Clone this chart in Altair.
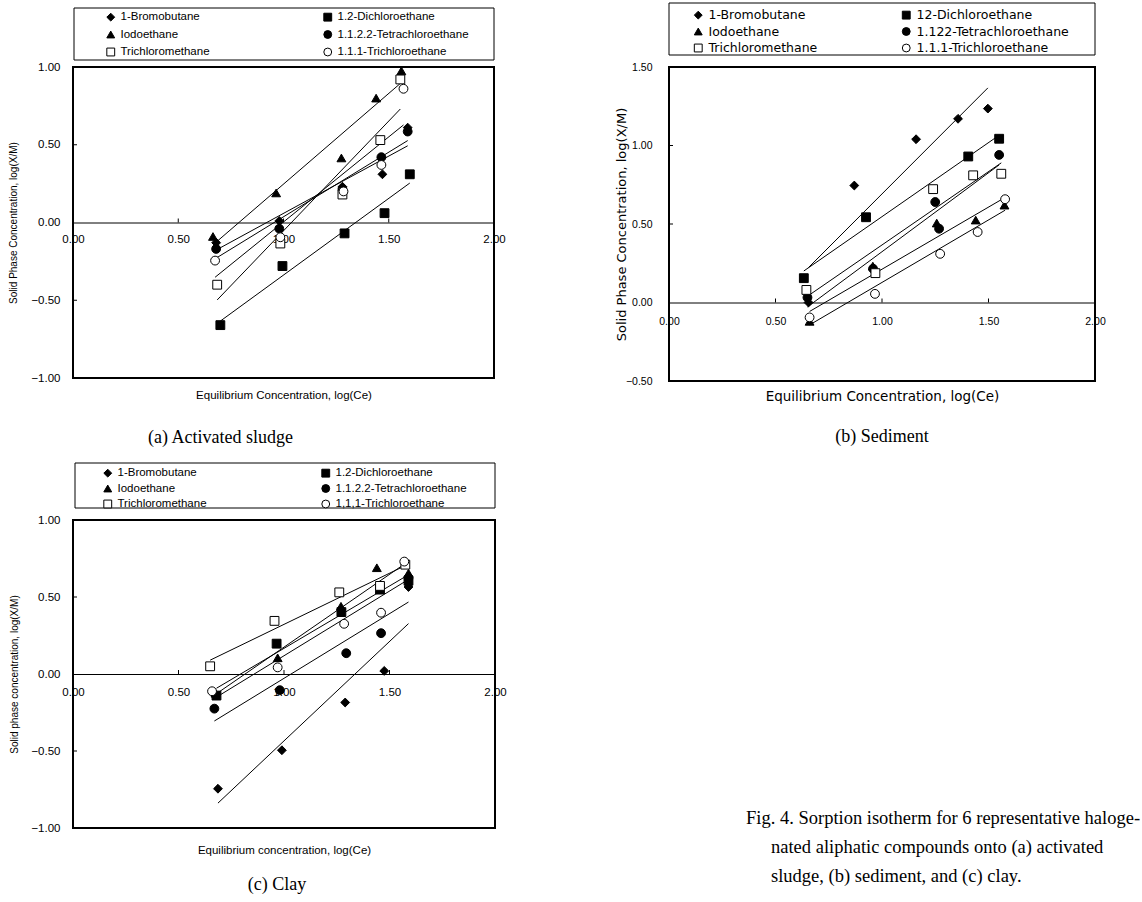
import altair as alt
import pandas as pd

# ---------------- legend labels (as printed in each panel) ----------------
LABELS_A = ["1-Bromobutane", "1.2-Dichloroethane", "Iodoethane",
            "1.1.2.2-Tetrachloroethane", "Trichloromethane", "1.1.1-Trichloroethane"]
LABELS_B = ["1-Bromobutane", "12-Dichloroethane", "Iodoethane",
            "1.122-Tetrachloroethane", "Trichloromethane", "1.1.1-Trichloroethane"]
LABELS_C = ["1-Bromobutane", "1.2-Dichloroethane", "Iodoethane",
            "1.1.2.2-Tetrachloroethane", "Trichloromethane", "1,1,1-Trichloroethane"]
MARKERS = ["diamond", "square", "triangle-up", "circle", "square", "circle"]
MARKER_FILLS = ["black", "black", "black", "black", "white", "white"]
# legend is laid out column by column: this order reads row by row as in the figure
LEGEND_ORDER = [0, 2, 4, 1, 3, 5]

# ---------------- (a) Activated sludge ----------------
A_LOGCE = [
    [0.68, 0.98, 1.28, 1.47, 1.59],
    [0.70, 0.995, 1.29, 1.48, 1.60],
    [0.665, 0.965, 1.275, 1.44, 1.56],
    [0.68, 0.98, 1.28, 1.465, 1.59],
    [0.685, 0.985, 1.28, 1.46, 1.555],
    [0.675, 0.985, 1.285, 1.465, 1.57],
]
A_LOGXM = [
    [-0.13, 0.01, 0.23, 0.31, 0.61],
    [-0.66, -0.28, -0.07, 0.06, 0.31],
    [-0.09, 0.19, 0.415, 0.80, 0.975],
    [-0.17, -0.04, 0.215, 0.42, 0.585],
    [-0.40, -0.135, 0.18, 0.53, 0.92],
    [-0.245, -0.095, 0.20, 0.37, 0.86],
]

# ---------------- (b) Sediment ----------------
B_LOGCE = [
    [0.655, 0.87, 1.16, 1.357, 1.497],
    [0.633, 0.925, 1.405, 1.55],
    [0.66, 0.957, 1.257, 1.44, 1.575],
    [0.65, 0.958, 1.25, 1.268, 1.55],
    [0.645, 0.969, 1.24, 1.428, 1.56],
    [0.66, 0.967, 1.273, 1.449, 1.578],
]
B_LOGXM = [
    [0.0, 0.745, 1.04, 1.17, 1.235],
    [0.155, 0.543, 0.93, 1.043],
    [-0.12, 0.232, 0.506, 0.525, 0.62],
    [0.032, 0.215, 0.64, 0.47, 0.94],
    [0.08, 0.187, 0.722, 0.81, 0.82],
    [-0.095, 0.055, 0.31, 0.449, 0.658],
]

# ---------------- (c) Clay ----------------
C_LOGCE = [
    [0.687, 0.99, 1.29, 1.475, 1.59],
    [0.68, 0.965, 1.272, 1.455, 1.59],
    [0.675, 0.97, 1.27, 1.44, 1.59],
    [0.67, 0.98, 1.295, 1.46, 1.59],
    [0.65, 0.955, 1.262, 1.455, 1.575],
    [0.659, 0.97, 1.285, 1.46, 1.57],
]
C_LOGXM = [
    [-0.745, -0.495, -0.185, 0.02, 0.565],
    [-0.14, 0.197, 0.402, 0.548, 0.605],
    [-0.125, 0.105, 0.44, 0.69, 0.655],
    [-0.225, -0.105, 0.135, 0.265, 0.625],
    [0.05, 0.345, 0.53, 0.572, 0.71],
    [-0.112, 0.043, 0.326, 0.398, 0.73],
]

X_LABELS = [0, 0.5, 1.0, 1.5, 2.0]
X_TICKS = [0.5, 1.0, 1.5]
CAPTION = ["Fig. 4. Sorption isotherm for 6 representative haloge-",
           "nated aliphatic compounds onto (a) activated",
           "sludge, (b) sediment, and (c) clay."]

SANS = "Liberation Sans"
WIDE = "DejaVu Sans"
SERIF = "Liberation Serif"


def panel(labels, xs, ys, p):
    rows = []
    for lab, xx, yy in zip(labels, xs, ys):
        for a, b in zip(xx, yy):
            rows.append({"s": lab, "x": a, "y": b})
    df = pd.DataFrame(rows)
    w, h = p["w"], p["h"]
    y0, y1 = p["ydom"]
    zero_y = h * (y1 - 0) / (y1 - y0)          # pixel position of log(X/M)=0 from top
    xsc = alt.Scale(domain=[0, 2], nice=False, zero=False)
    ysc = alt.Scale(domain=p["ydom"], nice=False, zero=False)

    x_ax = alt.Axis(values=X_LABELS, format=".2f", orient="bottom", offset=-(h - zero_y),
                    labelFlush=False, ticks=False, domain=True, domainColor="black",
                    domainWidth=1, grid=False, labelPadding=p["xlabpad"], labelFont=SANS,
                    labelFontSize=p["fs_tick"], labelColor="black", title=p["xtitle"],
                    titleFont=p["tfont"], titleFontSize=p["fs_title"], titleFontWeight="normal",
                    titleColor="black", titleY=p["titleY"], titleBaseline="middle")
    y_ax = alt.Axis(values=p["yvals"], format=".2f", orient="left", labelFlush=False,
                    ticks=False, domain=False, grid=False, labelPadding=p["ylabpad"],
                    labelFont=SANS, labelFontSize=p["fs_tick"], labelColor="black",
                    title=p["ytitle"], titleFont=p["tfont"], titleFontSize=p["fs_ytitle"],
                    titleFontWeight="normal", titleColor="black", titleX=p["titleX"],
                    titleBaseline="middle")
    X = lambda: alt.X("x:Q", scale=xsc, axis=x_ax)
    Y = lambda: alt.Y("y:Q", scale=ysc, axis=y_ax)

    order = [labels[i] for i in LEGEND_ORDER]
    shp = [MARKERS[i] for i in LEGEND_ORDER]
    fil = [MARKER_FILLS[i] for i in LEGEND_ORDER]
    leg = alt.Legend(orient="none", legendX=p["legX"], legendY=p["legY"], columns=2,
                     columnPadding=p["colpad"], rowPadding=p["rowpad"], padding=0,
                     labelFont=p["lfont"], labelFontSize=p["fs_leg"], labelColor="black",
                     labelOffset=4, labelLimit=400, symbolSize=62, symbolStrokeWidth=1,
                     symbolOpacity=1)

    lines = alt.Chart(df).transform_regression("x", "y", groupby=["s"]).mark_line(
        color="black", strokeWidth=1).encode(x=X(), y=Y(), detail="s:N")

    pts = alt.Chart(df).mark_point(filled=True, strokeWidth=1, size=78, opacity=1).encode(
        x=X(), y=Y(),
        shape=alt.Shape("s:N", scale=alt.Scale(domain=order, range=shp), legend=leg, title=None),
        fill=alt.Fill("s:N", scale=alt.Scale(domain=order, range=fil), legend=leg, title=None),
        stroke=alt.Stroke("s:N", scale=alt.Scale(domain=order, range=["black"] * 6), legend=leg,
                          title=None))

    xt = alt.Chart(pd.DataFrame({"x": X_TICKS, "y": [0.0] * len(X_TICKS)})).mark_tick(
        orient="vertical", size=4, thickness=1, color="black", yOffset=-2, opacity=1).encode(
        x=X(), y=Y())
    yt = alt.Chart(pd.DataFrame({"x": [0.0] * len(p["yticks"]), "y": p["yticks"]})).mark_tick(
        orient="horizontal", size=4, thickness=1, color="black", xOffset=2, opacity=1).encode(
        x=X(), y=Y())

    one = pd.DataFrame({"k": [0]})
    bx = p["box"]
    frame = alt.Chart(one).mark_rect(filled=False, stroke="black", strokeWidth=1).encode(
        x=alt.value(bx[0]), x2=alt.value(bx[1]), y=alt.value(bx[2]), y2=alt.value(bx[3]))

    return alt.layer(frame, lines, xt, yt, pts).properties(
        width=w, height=h,
        view=alt.ViewBackground(stroke="black", strokeWidth=2),
        title=alt.TitleParams(p["sub"], orient="bottom", font=SERIF, fontSize=18,
                              fontWeight="normal", color="black", offset=p["suboff"],
                              dx=p["subdx"]))


PA = dict(w=421, h=311, ydom=[-1, 1], yvals=[-1, -0.5, 0, 0.5, 1], yticks=[-0.5, 0.5],
          xtitle="Equilibrium Concentration, log(Ce)",
          ytitle="Solid Phase Concentration, log(X/M)", sub="(a)  Activated sludge",
          fs_tick=11.5, fs_title=11.5, fs_ytitle=10, fs_leg=11.5, tfont=SANS, lfont=SANS,
          xlabpad=11, ylabpad=13, titleY=172.5, titleX=-60,
          legX=32, legY=-55.75, colpad=111, rowpad=4.5,
          box=[1, 421, -59, -7], suboff=28, subdx=-63)
PB = dict(w=426, h=314, ydom=[-0.5, 1.5], yvals=[-0.5, 0, 0.5, 1.0, 1.5],
          yticks=[0.5, 1.0], xtitle="Equilibrium Concentration, log(Ce)",
          ytitle="Solid Phase Concentration, log(X/M)", sub="(b)  Sediment",
          fs_tick=10.5, fs_title=13.5, fs_ytitle=13, fs_leg=12.5, tfont=WIDE, lfont=WIDE,
          xlabpad=14, ylabpad=17, titleY=93.5, titleX=-48,
          legX=23, legY=-58.25, colpad=82, rowpad=3.5,
          box=[0, 426, -64, -12], suboff=25, subdx=0)
PC = dict(w=422, h=308, ydom=[-1, 1], yvals=[-1, -0.5, 0, 0.5, 1], yticks=[-0.5, 0.5],
          xtitle="Equilibrium concentration, log(Ce)",
          ytitle="Solid phase concentration, log(X/M)", sub="(c)  Clay",
          fs_tick=11.5, fs_title=11.5, fs_ytitle=10, fs_leg=11.5, tfont=SANS, lfont=SANS,
          xlabpad=12, ylabpad=13, titleY=176, titleX=-59,
          legX=29, legY=-52.75, colpad=112, rowpad=2.5,
          box=[2, 422, -57, -12], suboff=20, subdx=-7)

chart_a = panel(LABELS_A, A_LOGCE, A_LOGXM, PA)
chart_b = panel(LABELS_B, B_LOGCE, B_LOGXM, PB)
chart_c = panel(LABELS_C, C_LOGCE, C_LOGXM, PC)

# ---------------- caption ----------------
CAP_W, CAP_H, CAP_X0 = 470, 87, 77
cap_df = pd.DataFrame({"t": CAPTION, "i": [0, 1, 2], "ind": [0, 1, 1]})
cap_y = alt.Y("i:O", axis=None, scale=alt.Scale(paddingInner=0, paddingOuter=0))
cap_x = alt.X("ind:Q", axis=None, scale=alt.Scale(domain=[0, 1], range=[CAP_X0, CAP_X0 + 25]))
cap1 = alt.Chart(cap_df).transform_filter("datum.i == 0").mark_text(
    align="left", baseline="middle", font=SERIF, fontSize=18.5, color="black",
    limit=395, ellipsis=" ").encode(x=cap_x, y=cap_y, text="t:N")
cap2 = alt.Chart(cap_df).transform_filter("datum.i > 0").mark_text(
    align="left", baseline="middle", font=SERIF, fontSize=18.5, color="black",
    limit=370, ellipsis=" ").encode(x=cap_x, y=cap_y, text="t:N")
cap_pad = alt.Chart(pd.DataFrame({"k": [0]})).mark_rect(opacity=0).encode(
    x=alt.value(0), x2=alt.value(CAP_W), y=alt.value(0), y2=alt.value(CAP_H))
caption = alt.layer(cap_pad, cap1, cap2).properties(width=CAP_W, height=CAP_H)

ind = dict(x="independent", y="independent", shape="independent", fill="independent",
           stroke="independent")
lind = dict(shape="independent", fill="independent", stroke="independent")
left = alt.vconcat(chart_a, chart_c, spacing=13).resolve_scale(**ind).resolve_legend(**lind)
right = alt.vconcat(chart_b, caption, spacing=355).resolve_scale(**ind).resolve_legend(**lind)

chart = alt.hconcat(left, right, spacing=106).resolve_scale(**ind).resolve_legend(
    **lind).properties(
    padding={"left": 7, "top": 1, "right": 0, "bottom": 0},
    background="white",
).configure_view(stroke="transparent")

chart.save("out.html", embed_options={"renderer": "svg", "actions": False})
